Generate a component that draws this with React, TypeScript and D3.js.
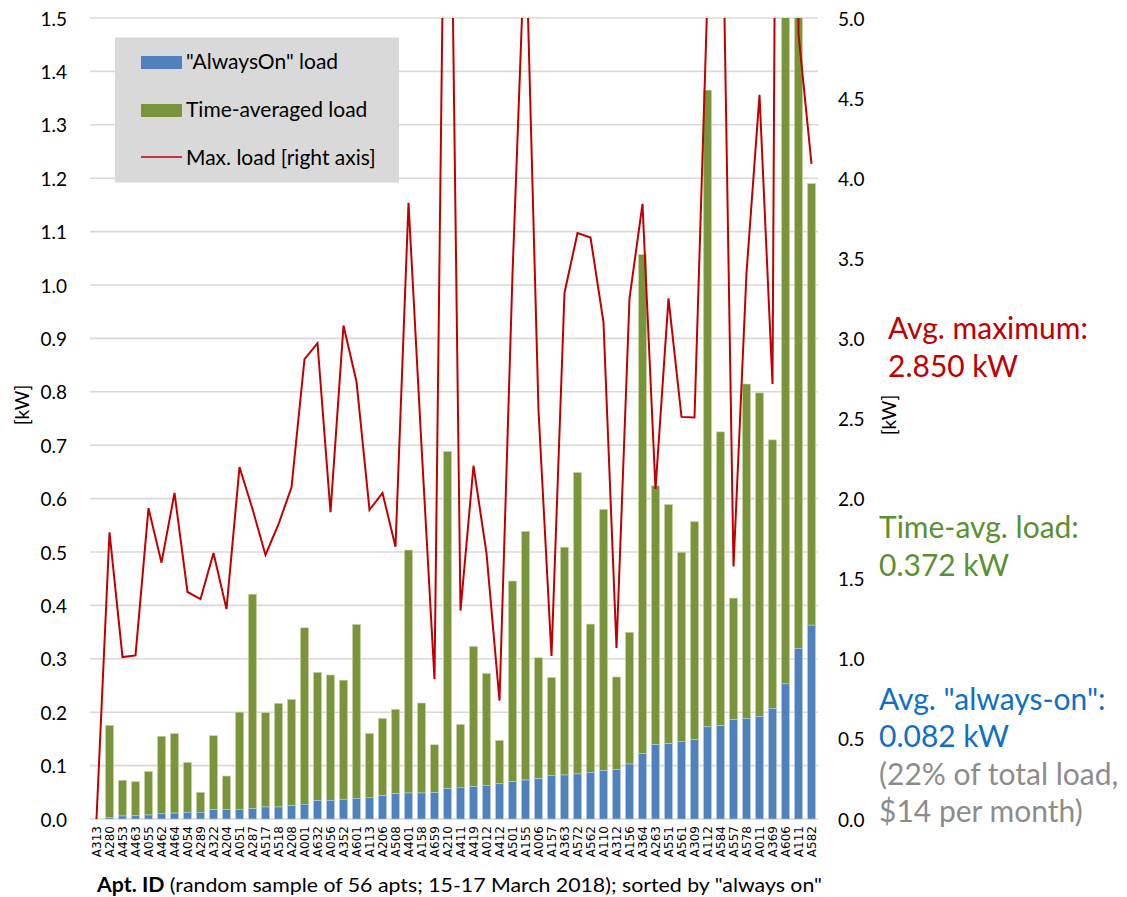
import React from "react";
import * as d3 from "d3";

const categories = ["A313","A280","A453","A463","A055","A462","A464","A054","A289","A322","A204","A051","A287","A517","A518","A208","A001","A632","A056","A352","A601","A113","A206","A508","A401","A158","A659","A210","A411","A419","A012","A412","A501","A155","A006","A157","A363","A572","A562","A110","A312","A156","A364","A263","A551","A561","A309","A112","A584","A557","A578","A011","A369","A606","A111","A582"];

// "AlwaysOn" load [kW] (blue, bottom of stack)
const alwaysOn = [0,0.003,0.0056,0.006,0.0075,0.0106,0.011,0.0125,0.0125,0.0175,0.018,0.018,0.0193,0.0225,0.0225,0.025,0.0275,0.0343,0.035,0.037,0.0387,0.0406,0.0437,0.0474,0.0487,0.0487,0.0493,0.0568,0.0593,0.0605,0.063,0.066,0.0699,0.073,0.0755,0.0817,0.0824,0.0843,0.0868,0.0904,0.0927,0.103,0.1228,0.1394,0.141,0.1454,0.149,0.1726,0.1748,0.186,0.1884,0.192,0.207,0.253,0.3195,0.363];

// Time-averaged load [kW] (green, stacked on top)
const timeAvg = [0,0.1725,0.067,0.064,0.0815,0.1444,0.149,0.0935,0.0375,0.1385,0.0625,0.182,0.4017,0.1765,0.1941,0.199,0.3305,0.2404,0.2347,0.223,0.3258,0.1198,0.1448,0.158,0.455,0.1685,0.0897,0.6317,0.118,0.2628,0.2098,0.0813,0.3758,0.4657,0.2265,0.1833,0.4266,0.5647,0.2782,0.4896,0.1733,0.2467,0.9342,0.4846,0.448,0.3542,0.408,1.1924,0.5502,0.2277,0.6262,0.606,0.503,2.15,2.13,0.827];

// Max. load [kW] (right axis)
const maxLoad = [0,1.79,1.011,1.021,1.94,1.6,2.035,1.417,1.373,1.66,1.31,2.197,1.935,1.648,1.84,2.07,2.87,2.97,1.916,3.08,2.73,1.93,2.035,1.7,3.847,2.33,0.872,7.7,1.3,2.205,1.658,0.738,3.4,5.6,2.55,1.018,3.285,3.657,3.63,3.1,1.067,3.25,3.84,2.06,3.25,2.51,2.507,5.15,6.53,1.576,3.41,4.52,2.715,17.3,4.9,4.09];

const leftTicks = [0,0.1,0.2,0.3,0.4,0.5,0.6,0.7,0.8,0.9,1.0,1.1,1.2,1.3,1.4,1.5];
const rightTicks = [0,0.5,1.0,1.5,2.0,2.5,3.0,3.5,4.0,4.5,5.0];

const legendItems = ["\"AlwaysOn\" load", "Time-averaged load", "Max. load [right axis]"];

const BLUE = "#4f81bd";
const GREEN = "#7a943c";
const RED = "#c00000";
const FONT = "Lato, 'Open Sans', sans-serif";

export default function App() {
  const W = 1127, H = 897;
  const x0 = 90, x1 = 818, yTop = 18, yBot = 819;

  const x = d3.scaleBand<string>().domain(categories).range([x0, x1]).paddingInner(0.38).paddingOuter(0.19);
  const yL = d3.scaleLinear().domain([0, 1.5]).range([yBot, yTop]);
  const yR = d3.scaleLinear().domain([0, 5]).range([yBot, yTop]);
  const bw = x.bandwidth();
  const cx = (c: string) => (x(c) as number) + bw / 2;

  const line = d3.line<number>()
    .x((_, i) => cx(categories[i]))
    .y((d) => yR(d));

  return (
    <svg width={W} height={H} style={{ position: "absolute", left: 0, top: 0, background: "#fff" }} fontFamily={FONT}>
      <defs>
        <clipPath id="plot">
          <rect x={x0} y={yTop} width={x1 - x0} height={yBot - yTop + 1} />
        </clipPath>
      </defs>

      {/* gridlines */}
      {leftTicks.map((t) => (
        <line key={"g" + t} x1={x0} x2={x1} y1={yL(t)} y2={yL(t)} stroke="#d9d9d9" strokeWidth={1.6} />
      ))}

      {/* left ticks */}
      {leftTicks.map((t) => (
        <text key={"l" + t} x={67} y={yL(t)} textAnchor="end" dominantBaseline="central" fontSize={19} fill="#000">
          {t.toFixed(1)}
        </text>
      ))}
      {/* right ticks */}
      {rightTicks.map((t) => (
        <text key={"r" + t} x={838} y={yR(t)} textAnchor="start" dominantBaseline="central" fontSize={19} fill="#000">
          {t.toFixed(1)}
        </text>
      ))}

      {/* bars */}
      <g clipPath="url(#plot)">
        {categories.map((c, i) => {
          const b = alwaysOn[i];
          const g = timeAvg[i];
          const xb = x(c) as number;
          return (
            <g key={c}>
              {g > 0 && (
                <rect x={xb} y={yL(b + g)} width={bw} height={yL(b) - yL(b + g)} fill={GREEN} stroke="#c9d8a8" strokeWidth={0.6} />
              )}
              {b > 0 && (
                <rect x={xb} y={yL(b)} width={bw} height={yL(0) - yL(b)} fill={BLUE} stroke="#b9cde5" strokeWidth={0.6} />
              )}
            </g>
          );
        })}
        <path d={line(maxLoad) || ""} fill="none" stroke={RED} strokeWidth={2} strokeLinejoin="miter" />
      </g>

      {/* x labels */}
      {categories.map((c) => (
        <text key={"x" + c} transform={`translate(${cx(c)},826) rotate(-90)`} textAnchor="end" dominantBaseline="central"
          fontSize={12} fontFamily="'DejaVu Sans', sans-serif" fill="#000">
          {c}
        </text>
      ))}

      {/* axis titles */}
      <text transform="translate(21,405) rotate(-90)" textAnchor="middle" dominantBaseline="central" fontSize={19}>[kW]</text>
      <text transform="translate(888,415) rotate(-90)" textAnchor="middle" dominantBaseline="central" fontSize={19}>[kW]</text>
      <text x={97} y={892} fontSize={20} fill="#000" textLength={725} lengthAdjust="spacingAndGlyphs">
        <tspan fontWeight="bold">Apt. ID</tspan>
        <tspan> (random sample of 56 apts; 15-17 March 2018); sorted by "always on"</tspan>
      </text>

      {/* legend */}
      <rect x={115} y={37.5} width={284} height={145} fill="#d9d9d9" />
      <rect x={141} y={56} width={41} height={13} fill={BLUE} />
      <rect x={141} y={104} width={41} height={13} fill={GREEN} />
      <line x1={141} x2={182} y1={157} y2={157} stroke={RED} strokeWidth={1.5} />
      <text x={186} y={69} fontSize={21} fill="#000">{legendItems[0]}</text>
      <text x={186} y={117} fontSize={21} fill="#000">{legendItems[1]}</text>
      <text x={186} y={165} fontSize={21} fill="#000">{legendItems[2]}</text>

      {/* annotations */}
      <g fontSize={30}>
        <text x={888} y={339} fill={RED}>Avg. maximum:</text>
        <text x={888} y={377} fill={RED}>2.850 kW</text>
        <text x={879} y={538} fill="#5b9032">Time-avg. load:</text>
        <text x={879} y={576} fill="#5b9032">0.372 kW</text>
        <text x={879} y={710} fill="#0f6fc6">Avg. "always-on":</text>
        <text x={879} y={747} fill="#0f6fc6">0.082 kW</text>
        <text x={879} y={785} fill="#8c8c8c">(22% of total load,</text>
        <text x={879} y={822} fill="#8c8c8c">$14 per month)</text>
      </g>
    </svg>
  );
}
